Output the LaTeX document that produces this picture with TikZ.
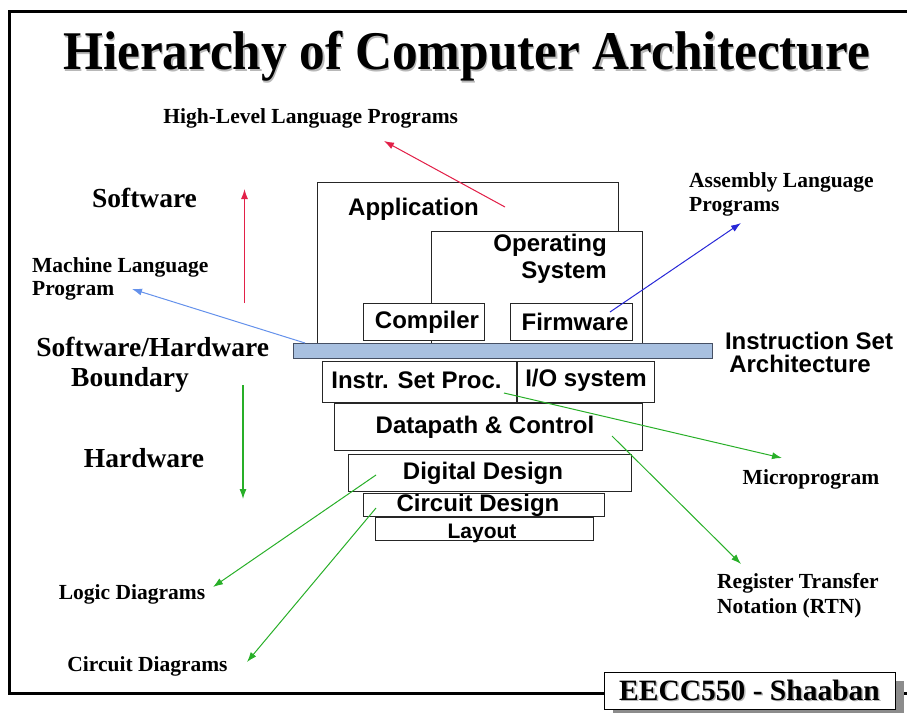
\documentclass[tikz,border=0pt]{standalone}
\usepackage{fontspec}
\setmainfont{Liberation Serif}
\setsansfont{Liberation Sans}
\usetikzlibrary{arrows.meta}
\definecolor{redar}{RGB}{226,32,72}
\definecolor{greenar}{RGB}{40,175,40}
\definecolor{bluear}{RGB}{40,40,215}
\definecolor{lblue}{RGB}{100,145,235}
\definecolor{barfill}{RGB}{168,192,224}
\definecolor{bardraw}{RGB}{70,80,100}
\newcommand{\shadowtext}[2]{\makebox[0pt][l]{\hspace*{#1}\raisebox{-#1}{\textcolor{black!28}{#2}}}#2}
\begin{document}
\begin{tikzpicture}[x=1pt,y=-1pt,
  box/.style={draw=black!85, line width=1.1pt, fill=white},
  sfl/.style={font=\sffamily\bfseries\fontsize{24}{27}\selectfont, inner sep=0pt, align=center},
  srl/.style={font=\bfseries\fontsize{21.5}{24}\selectfont, inner sep=0pt, align=left},
  big/.style={font=\bfseries\fontsize{27.5}{30}\selectfont, inner sep=0pt},
  arr/.style={-{Latex[length=10pt,width=7pt]}, line width=1pt},
]
\useasboundingbox (0,0) rectangle (907,712);
\clip (0,0) rectangle (907,712);
% frame
\draw[line width=3pt] (9,11) rectangle (915,693);
% title
\node[font=\bfseries\fontsize{54.5}{60}\selectfont, inner sep=0pt] (title) at (466.5,57) {\scalebox{0.94}[1]{\shadowtext{1.5pt}{Hierarchy of Computer Architecture}}};
% boxes (upper)
\node[box, anchor=north west, minimum width=301pt, minimum height=162pt] (appbox) at (317,182) {};
\node[box, anchor=north west, minimum width=211pt, minimum height=113pt] (osbox) at (431,231) {};
\node[box, anchor=north west, minimum width=121pt, minimum height=37pt] (compbox) at (363,303) {};
\node[box, anchor=north west, minimum width=122pt, minimum height=37pt] (firmbox) at (510,303) {};
% ISA bar
\node[draw=bardraw, fill=barfill, line width=1pt, anchor=north west, minimum width=419pt, minimum height=15pt, inner sep=0pt] (bar) at (293,343) {};
% boxes (lower)
\node[box, anchor=north west, minimum width=195pt, minimum height=41pt] (ispbox) at (322,361) {};
\node[box, anchor=north west, minimum width=137pt, minimum height=41pt] (iobox) at (517,361) {};
\node[box, anchor=north west, minimum width=308pt, minimum height=47pt] (dpbox) at (334,403) {};
\node[box, anchor=north west, minimum width=283pt, minimum height=37pt] (ddbox) at (348,454) {};
\node[box, anchor=north west, minimum width=241pt, minimum height=23pt] (cdbox) at (363,493) {};
\node[box, anchor=north west, minimum width=218pt, minimum height=23pt] (lybox) at (375,517) {};
\draw[line width=1.1pt, black!85] (iobox.north west) -- ++(0,43);
% box texts
\node[sfl] (app) at (413.5,209.5) {Application};
\node[sfl, anchor=east, align=right] (os) at (607,259) {Operating\\System};
\node[sfl] (comp) at (427,322) {Compiler};
\node[sfl] (firm) at (575,322) {Firmware};
\node[sfl] (isp) at (416.5,380.5) {Instr. Set Proc.};
\node[sfl] (io) at (586,380.5) {I/O system};
\node[sfl] (dp) at (485,427.5) {Datapath \& Control};
\node[sfl] (dd) at (483,473.5) {Digital Design};
\node[sfl] (cd) at (478,505.5) {Circuit Design};
\node[sfl, font=\sffamily\bfseries\fontsize{21}{24}\selectfont] (ly) at (482,533.5) {Layout};
\node[sfl] (isa1) at (809,340.5) {Instruction Set};
\node[sfl] (isa2) at (800,363.5) {Architecture};
% side labels
\node[srl] (hll) at (310.7,118.5) {High-Level Language Programs};
\node[big] (sw) at (144.5,197.5) {Software};
\node[srl, anchor=west, font=\bfseries\fontsize{21.5}{23}\selectfont] (mlp) at (32,279) {Machine Language\\Program};
\node[big] (swhw1) at (152.8,346.5) {Software/Hardware};
\node[big] (swhw2) at (130,379.5) {Boundary};
\node[big] (hw) at (144,458.5) {Hardware};
\node[srl] (logic) at (132,594) {Logic Diagrams};
\node[srl] (circd) at (147.5,666.5) {Circuit Diagrams};
\node[srl, anchor=west, font=\bfseries\fontsize{21.5}{23.5}\selectfont] (asm) at (689,194.5) {Assembly Language\\Programs};
\node[srl] (micro) at (811,479.5) {Microprogram};
\node[srl, anchor=west, font=\bfseries\fontsize{21.5}{25}\selectfont] (rtn) at (717,595.5) {Register Transfer\\Notation (RTN)};
% connector end points
\coordinate (pApp) at (505,207);
\coordinate (tHll) at (384,141);
\coordinate (swB) at (244.5,303);
\coordinate (swT) at (244.5,189);
\coordinate (hwT) at (243,385);
\coordinate (hwB) at (243,499);
\coordinate (pBar) at (305,343);
\coordinate (tMlp) at (132,289);
\coordinate (pFirm) at (610,312);
\coordinate (tAsm) at (741,223);
\coordinate (pIsp) at (504,393);
\coordinate (tMicro) at (782,458);
\coordinate (pDp) at (612,436);
\coordinate (tRtn) at (741,564);
\coordinate (pDd) at (376,475);
\coordinate (tLogic) at (213,587);
\coordinate (pCd) at (376,508);
\coordinate (tCircd) at (247,662);
% connectors
\draw[arr, redar] (pApp) -- (tHll);
\draw[arr, redar, line width=1.3pt] (swB) -- (swT);
\draw[arr, greenar, line width=1.1pt] (hwT) -- (hwB);
\draw[arr, lblue] (pBar) -- (tMlp);
\draw[arr, bluear] (pFirm) -- (tAsm);
\draw[arr, greenar] (pIsp) -- (tMicro);
\draw[arr, greenar] (pDp) -- (tRtn);
\draw[arr, greenar] (pDd) -- (tLogic);
\draw[arr, greenar] (pCd) -- (tCircd);
% signature box
\fill[black!45] (613,681) rectangle (904,720);
\node[draw=black, line width=1pt, fill=white, anchor=north west, minimum width=291pt, minimum height=37pt, inner sep=0pt] (sigbox) at (604,672) {};
\node[font=\bfseries\fontsize{29.5}{32}\selectfont, inner sep=0pt] (sig) at (749.5,691) {\shadowtext{1.5pt}{EECC550 - Shaaban}};
\end{tikzpicture}
\end{document}
